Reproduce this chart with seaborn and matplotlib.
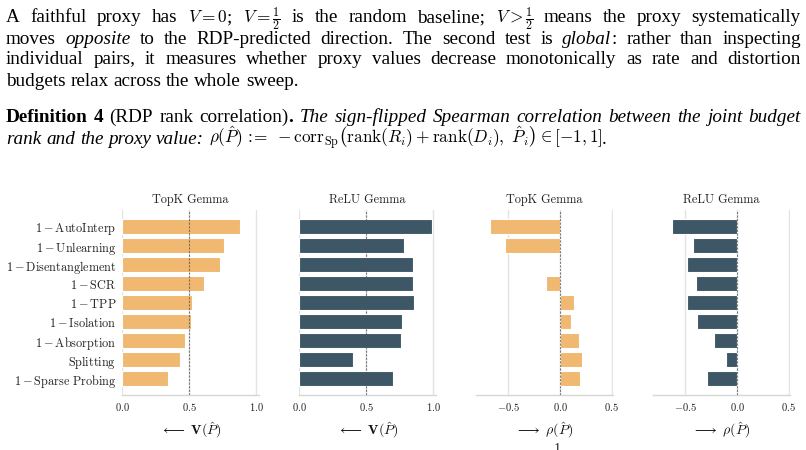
import matplotlib
matplotlib.use("Agg")
import matplotlib.pyplot as plt
import seaborn as sns
import pandas as pd

# ---------------- data ----------------
metrics = [r"$1-\mathrm{AutoInterp}$", r"$1-\mathrm{Unlearning}$", r"$1-\mathrm{Disentanglement}$",
           r"$1-\mathrm{SCR}$", r"$1-\mathrm{TPP}$", r"$1-\mathrm{Isolation}$",
           r"$1-\mathrm{Absorption}$", r"$\mathrm{Splitting}$", r"$1-\mathrm{Sparse\ Probing}$"]
topk_v = [0.88, 0.757, 0.727, 0.607, 0.52, 0.515, 0.47, 0.435, 0.345]
relu_v = [0.988, 0.78, 0.85, 0.848, 0.856, 0.77, 0.76, 0.405, 0.70]
topk_rho = [-0.672, -0.532, 0.0, -0.14, 0.13, 0.108, 0.178, 0.21, 0.19]
relu_rho = [-0.624, -0.424, -0.484, -0.392, -0.484, -0.382, -0.223, -0.102, -0.293]
titles = ["TopK Gemma", "ReLU Gemma", "TopK Gemma", "ReLU Gemma"]
xlabels = [r"$\longleftarrow\ \mathbf{V}(\hat{P})$", r"$\longleftarrow\ \mathbf{V}(\hat{P})$",
           r"$\longrightarrow\ \rho(\hat{P})$", r"$\longrightarrow\ \rho(\hat{P})$"]

ORANGE = "#F0B870"
TEAL = "#3D5766"

sns.set_theme(style="whitegrid")
plt.rcParams.update({
    "font.family": "serif",
    "font.serif": ["cmr10", "DejaVu Serif"],
    "mathtext.fontset": "cm",
    "axes.formatter.use_mathtext": True,
    "axes.unicode_minus": True,
})

W, H = 806, 450
fig = plt.figure(figsize=(W / 100, H / 100), dpi=100)

df = pd.DataFrame({"metric": metrics, "topk_v": topk_v, "relu_v": relu_v,
                   "topk_rho": topk_rho, "relu_rho": relu_rho})

panels = [("topk_v", ORANGE, 122, (0, 1.02), [0.0, 0.5, 1.0], 0.5),
          ("relu_v", TEAL, 299, (0, 1.02), [0.0, 0.5, 1.0], 0.5),
          ("topk_rho", ORANGE, 476, (-0.81, 0.51), [-0.5, 0.0, 0.5], 0.0),
          ("relu_rho", TEAL, 653, (-0.81, 0.51), [-0.5, 0.0, 0.5], 0.0)]

ax_top, ax_bot = 210, 395
for i, (col, color, left, xlim, ticks, ref) in enumerate(panels):
    ax = fig.add_axes([left / W, 1 - ax_bot / H, 137 / W, (ax_bot - ax_top) / H])
    sns.barplot(data=df, x=col, y="metric", color=color, saturation=1, width=0.78,
                edgecolor="white", linewidth=0.8, ax=ax, zorder=2)
    ax.set_xlim(*xlim)
    ax.set_ylim(8.86, -0.88)
    ax.set_xticks(ticks)
    ax.set_xticklabels([f"${t:.1f}$" for t in ticks])
    ax.grid(axis="x", color="#e3e3e3", linewidth=1.0, zorder=0)
    ax.grid(axis="y", visible=False)
    ax.axvline(ref, color="#555555", linewidth=0.8, linestyle=(0, (2, 1.2)), alpha=0.75, zorder=3)
    for s in ["left", "top", "right"]:
        ax.spines[s].set_visible(False)
    ax.spines["bottom"].set_color("#d6d6d6")
    ax.spines["bottom"].set_linewidth(1.0)
    ax.tick_params(axis="both", length=0, labelsize=7.6, pad=4, labelcolor="#222222")
    ax.tick_params(axis="y", labelsize=8.8, pad=4)
    ax.set_ylabel("")
    if i > 0:
        ax.set_yticklabels([])
    ax.set_title(titles[i], fontsize=8.8, pad=5, color="#222222")
    ax.set_xlabel(xlabels[i], fontsize=10, labelpad=6, color="#111111")

# ---------------- paragraph text ----------------
renderer = fig.canvas.get_renderer()
TXT = 13.8
SERIF = "Liberation Serif"


def make(txt, st, size):
    kw = dict(fontsize=size, family=SERIF, color="black", va="baseline", ha="left",
              math_fontfamily="cm")
    if st == "it":
        kw["style"] = "italic"
    elif st == "bf":
        kw["weight"] = "bold"
    elif st == "ms":
        kw["fontsize"] = size * 0.9
    return fig.text(0, 0, txt, **kw)


def draw_line(words, y, justify=True, x0=6, x1=801, size=TXT):
    while True:
        arts, widths = [], []
        for w in words:
            segs = []
            for txt, st in w:
                t = make(txt, st, size)
                segs.append((t, t.get_window_extent(renderer).width))
            arts.append(segs)
            widths.append(sum(s[1] for s in segs))
        n = len(words)
        em = size * 100 / 72
        natural = em * 0.25
        if justify and n > 1:
            sp = (x1 - x0 - sum(widths)) / (n - 1)
            if sp < em * 0.3 and size > 9:
                for segs in arts:
                    for t, _ in segs:
                        t.remove()
                size -= 0.2
                continue
        else:
            sp = natural
        break
    x = x0
    for segs, wd in zip(arts, widths):
        xx = x
        for t, tw in segs:
            t.set_position((xx / W, 1 - y / H))
            xx += tw
        x += wd + sp


def rm(s):
    return [[(w, "rm")] for w in s.split()]


def it(s):
    return [[(w, "it")] for w in s.split()]


line1 = (rm("A faithful proxy has") + [[(r"$V=0$", "ms"), (";", "rm")]]
         + [[(r"$V=\frac{1}{2}$", "ms")]] + rm("is the random baseline;")
         + [[(r"$V>\frac{1}{2}$", "ms")]] + rm("means the proxy systematically"))
line2 = (rm("moves") + it("opposite") + rm("to the RDP-predicted direction. The second test is")
         + [[("global", "it"), (":", "rm")]] + rm("rather than inspecting"))
line3 = rm("individual pairs, it measures whether proxy values decrease monotonically as rate and distortion")
line4 = rm("budgets relax across the whole sweep.")
line5 = ([[("Definition", "bf")], [("4", "bf")]] + rm("(RDP rank")
         + [[("correlation)", "rm"), (".", "bf")]]
         + it("The sign-flipped Spearman correlation between the joint budget"))
line6 = (it("rank and the proxy value:")
         + [[(r"$\rho(\hat{P})\,:\!\!=\;-\mathrm{corr}_{\mathrm{Sp}}\left(\mathrm{rank}(R_i)+\mathrm{rank}(D_i),\ \hat{P}_i\right)\in[-1,1]$", "ms"),
             (".", "rm")]])

draw_line(line1, 22.5)
draw_line(line2, 43.5)
draw_line(line3, 64.5)
draw_line(line4, 85.5, justify=False)
draw_line(line5, 121.5)
draw_line(line6, 144, justify=False)

fig.text(557 / W, 1 - 443 / H, "1", fontsize=10, family=SERIF, va="top", ha="center")

fig.savefig("out.png", dpi=100)
